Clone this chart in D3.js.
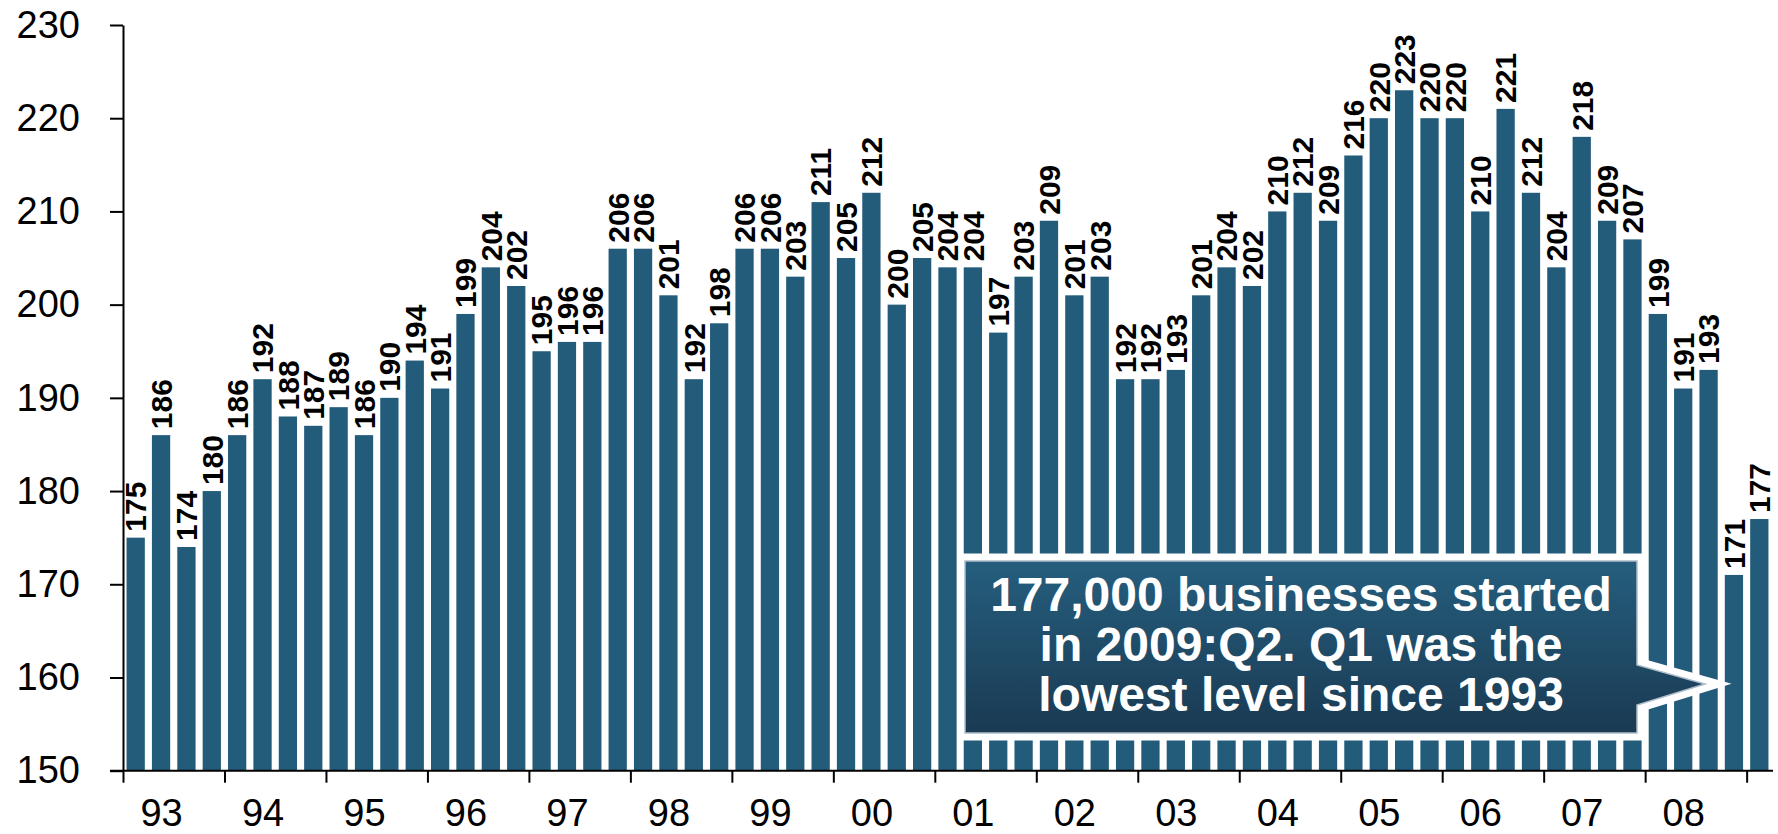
<!DOCTYPE html>
<html>
<head>
<meta charset="utf-8">
<script src="https://cdn.jsdelivr.net/npm/d3@7"></script>
<style>
  html, body { margin: 0; padding: 0; background: #ffffff; }
  svg { display: block; }
  text { font-family: "Liberation Sans", Arial, Helvetica, sans-serif; }
</style>
</head>
<body>
<svg id="chart" width="1778" height="834"></svg>
<script>
// ---- data ----
const yearLabels = ["93","94","95","96","97","98","99","00","01","02","03","04","05","06","07","08"];
const quarters = [];
for (const yl of yearLabels) for (let q = 1; q <= 4; q++) quarters.push(yl + "Q" + q);
quarters.push("09Q1");
const values = [
  175,186,174,180,
  186,192,188,187,
  189,186,190,194,
  191,199,204,202,
  195,196,196,206,
  206,201,192,198,
  206,206,203,211,
  205,212,200,205,
  204,204,197,203,
  209,201,203,192,
  192,193,201,204,
  202,210,212,209,
  216,220,223,220,
  220,210,221,212,
  204,218,209,207,
  199,191,193,171,
  177
];
const yTicks = [150,160,170,180,190,200,210,220,230];
const noteLines = ["177,000 businesses started", "in 2009:Q2. Q1 was the", "lowest level since 1993"];

// ---- layout ----
const svg = d3.select("#chart");
const r0 = 123, r1 = 1772;
const yTop = 25, yBase = 770.7;
const barColor = "#235B7A";

const x = d3.scaleBand().domain(quarters).range([r0, r1]).paddingInner(0.28).paddingOuter(0.14);
const q = d3.scaleLinear().domain([0, quarters.length]).range([r0, r1]);
const y = d3.scaleLinear().domain([150, 230]).range([yBase, yTop]);

// bars
svg.append("g").selectAll("rect").data(values).join("rect")
  .attr("x", (d, i) => x(quarters[i]))
  .attr("width", x.bandwidth())
  .attr("y", d => y(d))
  .attr("height", d => y(150) - y(d))
  .attr("fill", barColor);

// value labels
svg.append("g").selectAll("text").data(values).join("text")
  .attr("transform", (d, i) => `translate(${x(quarters[i]) + x.bandwidth() / 2},${y(d) - 6}) rotate(-90)`)
  .attr("dy", "0.36em")
  .attr("text-anchor", "start")
  .attr("font-size", 30)
  .attr("font-weight", "bold")
  .attr("fill", "#000")
  .text(d => d);

// y axis
const yAxis = svg.append("g").attr("transform", `translate(${r0},0)`)
  .call(d3.axisLeft(y).tickValues(yTicks).tickSize(13).tickSizeOuter(0).tickPadding(30).tickFormat(d3.format("d")));
yAxis.selectAll("text").attr("font-size", 38).attr("fill", "#000").style("font-family", '"Liberation Sans", Arial, sans-serif');
yAxis.selectAll("line, path").attr("stroke", "#000").attr("stroke-width", 2);

// x axis ticks
const tickVals = d3.range(0, quarters.length, 4);
const xAxis = svg.append("g").attr("transform", `translate(0,${yBase})`)
  .call(d3.axisBottom(q).tickValues(tickVals).tickSize(12).tickSizeOuter(0).tickFormat(""));
xAxis.select(".domain").attr("d", `M${r0 - 13},0H${r1 + 1}`);
xAxis.selectAll("line, path").attr("stroke", "#000").attr("stroke-width", 2);

// x axis labels
const xLab = svg.append("g").attr("transform", `translate(0,${yBase})`)
  .call(d3.axisBottom(q).tickValues(yearLabels.map((d, i) => i * 4 + 1.5)).tickSize(0).tickPadding(28)
    .tickFormat((d, i) => yearLabels[i]));
xLab.select(".domain").remove();
xLab.selectAll("text").attr("font-size", 38).attr("fill", "#000").style("font-family", '"Liberation Sans", Arial, sans-serif');

// annotation callout
const defs = svg.append("defs");
const grad = defs.append("linearGradient").attr("id", "noteGrad").attr("x1", 0).attr("y1", 0).attr("x2", 0).attr("y2", 1);
grad.append("stop").attr("offset", "0%").attr("stop-color", "#255E7E");
grad.append("stop").attr("offset", "100%").attr("stop-color", "#1A3A52");

const bx0 = 965, by0 = 561, bx1 = 1637, by1 = 733;
const pTop = 665, pBot = 705, tipX = 1705, tipY = 684;
const calloutPath = `M${bx0},${by0}H${bx1}V${pTop}L${tipX},${tipY}L${bx1},${pBot}V${by1}H${bx0}Z`;
svg.append("path").attr("d", calloutPath).attr("fill", "#fff").attr("stroke", "#fff").attr("stroke-width", 15).attr("stroke-linejoin", "miter");
svg.append("path").attr("d", calloutPath).attr("fill", "url(#noteGrad)").attr("stroke", "#aebdca").attr("stroke-width", 1.5);

svg.append("g").selectAll("text").data(noteLines).join("text")
  .attr("x", (bx0 + bx1) / 2)
  .attr("y", (d, i) => 611 + i * 50)
  .attr("text-anchor", "middle")
  .attr("font-size", 48)
  .attr("font-weight", "bold")
  .attr("fill", "#fff")
  .text(d => d);
</script>
</body>
</html>
